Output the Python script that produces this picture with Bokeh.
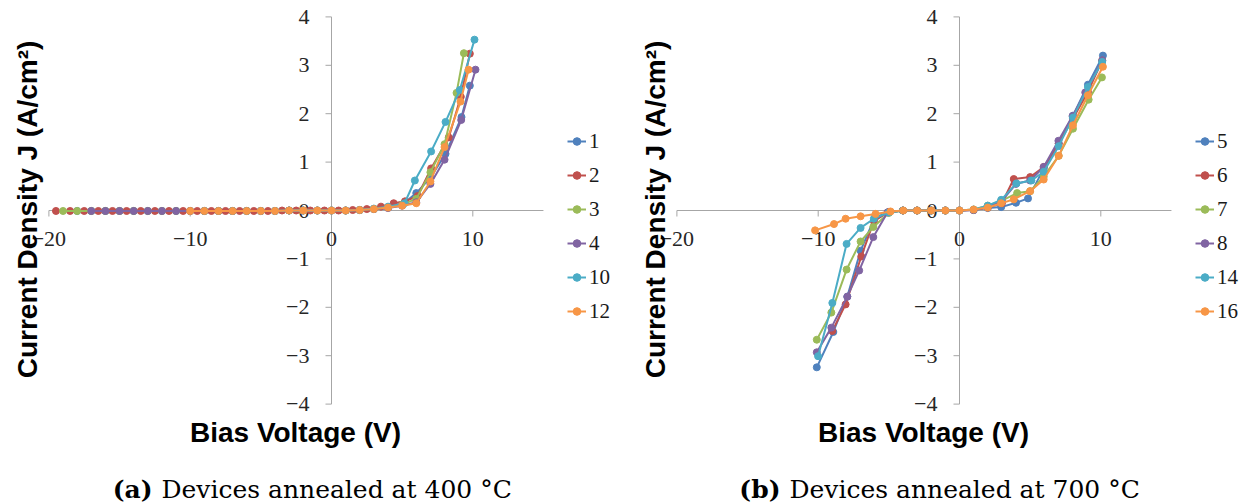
from bokeh.plotting import figure
from bokeh.models import Range1d, Legend, LegendItem, Label
from bokeh.layouts import row
from bokeh.embed import file_html
from bokeh.resources import INLINE
from bokeh.core.properties import value

# Series colours (1st..6th series of each panel)
COLORS = ["#4F81BD", "#C0504D", "#9BBB59", "#8064A2", "#4BACC6", "#F79646"]

# ---------------- devices annealed at 400 °C ----------------
names_400 = ["1", "2", "3", "4", "10", "12"]

v_400_1 = [-18, -17, -16, -15, -14, -13, -12, -11, -10, -9, -8, -7, -6, -5, -4, -3, -2, -1,
           0, 1, 2, 3, 4, 5, 6.0, 7.0, 8.07, 9.2, 9.79]
j_400_1 = [-0.01, -0.01, -0.01, -0.01, -0.01, -0.01, -0.01, -0.01, -0.01, -0.01, -0.01, -0.01,
           -0.01, -0.01, -0.01, 0.0, 0.0, 0.0,
           0.0, 0.0, 0.01, 0.03, 0.06, 0.12, 0.36, 0.68, 1.17, 1.93, 2.58]

v_400_2 = [-19.5, -18.5, -17.5, -16.5, -15.5, -14.5, -13.5, -12.5, -11.5, -10.5, -9.5, -8.5,
           -7.5, -6.5, -5.5, -4.5, -3.5, -2.5, -1.5, -0.5,
           0.5, 1.5, 2.5, 3.5, 4.4, 5.2, 6.1, 7.05, 8.3, 9.15, 9.79]
j_400_2 = [-0.01, -0.01, -0.01, -0.01, -0.01, -0.01, -0.01, -0.01, -0.01, -0.01, -0.01, -0.01,
           -0.01, -0.01, -0.01, -0.01, 0.0, 0.0, 0.0, 0.0,
           0.0, 0.01, 0.03, 0.08, 0.15, 0.19, 0.3, 0.87, 1.51, 2.35, 3.24]

v_400_3 = [-19, -18, -17, -16, -15, -14, -13, -12, -11, -10, -9, -8, -7, -6, -5, -4, -3, -2, -1,
           0, 1, 2, 3, 4, 5, 6, 7.0, 8.0, 8.85, 9.37]
j_400_3 = [-0.01, -0.01, -0.01, -0.01, -0.01, -0.01, -0.01, -0.01, -0.01, -0.01, -0.01, -0.01,
           -0.01, -0.01, -0.01, -0.01, 0.0, 0.0, 0.0,
           0.0, 0.0, 0.01, 0.03, 0.06, 0.12, 0.24, 0.79, 1.37, 2.43, 3.25]

v_400_4 = [-17, -16, -15, -14, -13, -12, -11, -10, -9, -8, -7, -6, -5, -4, -3, -2, -1,
           0, 1, 2, 3, 4, 5, 6.0, 7.0, 8.0, 9.18, 10.19]
j_400_4 = [-0.01, -0.01, -0.01, -0.01, -0.01, -0.01, -0.01, -0.01, -0.01, -0.01, -0.01, -0.01,
           -0.01, -0.01, 0.0, 0.0, 0.0,
           0.0, 0.0, 0.01, 0.03, 0.05, 0.1, 0.17, 0.55, 1.05, 1.87, 2.91]

v_400_10 = [-9, -8, -7, -6, -5, -4, -3, -2, -1, 0,
            1, 2, 3, 4, 5.17, 5.9, 7.05, 8.07, 9.08, 10.12]
j_400_10 = [-0.01, -0.01, -0.01, -0.01, -0.01, -0.01, 0.0, 0.0, 0.0, 0.0,
            0.0, 0.01, 0.04, 0.08, 0.15, 0.62, 1.22, 1.83, 2.49, 3.53]

v_400_12 = [-10, -9, -8, -7, -6, -5, -4, -3, -2, -1, 0,
            1, 2, 3, 4, 5, 6, 7, 8, 9.13, 9.7]
j_400_12 = [-0.01, -0.01, -0.01, -0.01, -0.01, -0.01, -0.01, 0.0, 0.0, 0.0, 0.0,
            0.0, 0.01, 0.03, 0.06, 0.1, 0.15, 0.6, 1.31, 2.25, 2.91]

# ---------------- devices annealed at 700 °C ----------------
names_700 = ["5", "6", "7", "8", "14", "16"]

v_700_5 = [-10.1, -8.93, -7.94, -7.0, -6.0, -5.0, -4, -3, -2, -1, 0,
           1, 2, 2.95, 4.0, 4.85, 5.96, 7.02, 8.03, 9.09, 10.15]
j_700_5 = [-3.24, -2.51, -1.78, -0.83, -0.15, -0.03, 0, 0, 0, 0, 0,
           0.01, 0.05, 0.07, 0.16, 0.25, 0.86, 1.39, 1.96, 2.6, 3.2]

v_700_6 = [-9.0, -8.06, -6.95, -6.06, -5.0, -4, -3, -2, -1, 0,
           1, 2, 3, 3.84, 5.0, 5.96, 7.02, 8.03, 9.09, 10.1]
j_700_6 = [-2.49, -1.94, -0.95, -0.22, -0.03, 0, 0, 0, 0, 0,
           0.01, 0.06, 0.15, 0.65, 0.69, 0.9, 1.38, 1.9, 2.45, 3.1]

v_700_7 = [-10.1, -9.07, -7.99, -7.0, -6.1, -5.0, -4, -3, -2, -1, 0,
           1, 2, 2.95, 4.08, 5.0, 5.96, 7.02, 8.03, 9.14, 10.08]
j_700_7 = [-2.67, -2.11, -1.22, -0.64, -0.34, -0.05, 0, 0, 0, 0, 0,
           0.02, 0.1, 0.2, 0.36, 0.4, 0.7, 1.13, 1.69, 2.29, 2.75]

v_700_8 = [-10.1, -9.07, -7.94, -7.1, -6.1, -5.1, -4, -3, -2, -1, 0,
           1, 2, 3, 4, 5, 5.96, 7.0, 8.0, 8.9, 10.1]
j_700_8 = [-2.93, -2.42, -1.78, -1.24, -0.55, -0.04, 0, 0, 0, 0, 0,
           0.01, 0.07, 0.2, 0.55, 0.62, 0.9, 1.44, 1.95, 2.44, 3.1]

v_700_14 = [-10.01, -9.0, -7.99, -7.0, -6.06, -5.0, -4, -3, -2, -1, 0,
            1, 2, 2.95, 4.03, 5.09, 5.96, 7.02, 8.03, 9.09, 10.1]
j_700_14 = [-3.01, -1.91, -0.69, -0.36, -0.17, -0.04, 0, 0, 0, 0, 0,
            0.02, 0.1, 0.22, 0.56, 0.62, 0.8, 1.33, 1.92, 2.55, 3.07]

v_700_16 = [-10.22, -8.88, -8.06, -7.0, -5.94, -4.88, -3.98, -3, -2, -1, 0,
            1, 2.0, 2.95, 3.84, 5.0, 5.96, 7.02, 8.03, 9.09, 10.15]
j_700_16 = [-0.41, -0.28, -0.17, -0.12, -0.07, -0.02, 0, 0, 0, 0, 0,
            0.02, 0.06, 0.15, 0.23, 0.4, 0.64, 1.13, 1.76, 2.38, 2.97]

series_400 = [(v_400_1, j_400_1), (v_400_2, j_400_2), (v_400_3, j_400_3),
              (v_400_4, j_400_4), (v_400_10, j_400_10), (v_400_12, j_400_12)]
series_700 = [(v_700_5, j_700_5), (v_700_6, j_700_6), (v_700_7, j_700_7),
              (v_700_8, j_700_8), (v_700_14, j_700_14), (v_700_16, j_700_16)]

# Axis ticks and labels
x_ticks = [-20, -10, 0, 10]
x_tick_labels = ["\u221220", "\u221210", "0", "10"]
y_ticks = [-4, -3, -2, -1, 0, 1, 2, 3, 4]
y_tick_labels = ["\u22124", "\u22123", "\u22122", "\u22121", "0", "1", "2", "3", "4"]
X_MIN, X_MAX = -20, 15
Y_MIN, Y_MAX = -4, 4

# Layout (screen pixels)
FIG_H = 504
ORIGIN_X = 331          # screen x of V = 0
ORIGIN_Y = 210          # screen y (from top) of J = 0
PX_PER_V = 14.13
PX_PER_J = 48.4
TICK_PX = 6

TICK_FONT = "Liberation Serif"
TITLE_FONT = "Liberation Sans"
CAPTION_FONT = "DejaVu Serif"
AXIS_GRAY = "#a6a6a6"


def panel(width, names, series, tag, caption):
    x_start = -ORIGIN_X / PX_PER_V
    x_end = (width - ORIGIN_X) / PX_PER_V
    y_end = ORIGIN_Y / PX_PER_J
    y_start = -(FIG_H - ORIGIN_Y) / PX_PER_J

    p = figure(width=width, height=FIG_H, output_backend="svg", toolbar_location=None,
               x_axis_type=None, y_axis_type=None,
               x_range=Range1d(x_start, x_end), y_range=Range1d(y_start, y_end),
               min_border=0, outline_line_color=None)
    p.background_fill_color = "white"
    p.border_fill_color = "white"

    # axes crossing at the origin
    p.segment(x0=[X_MIN, 0], y0=[0, Y_MIN], x1=[X_MAX, 0], y1=[0, Y_MAX],
              line_color=AXIS_GRAY, line_width=1)
    tick_dy = TICK_PX / PX_PER_J
    tick_dx = TICK_PX / PX_PER_V
    p.segment(x0=x_ticks, y0=[0] * len(x_ticks), x1=x_ticks, y1=[-tick_dy] * len(x_ticks),
              line_color=AXIS_GRAY, line_width=1)
    p.segment(x0=[0] * len(y_ticks), y0=y_ticks, x1=[-tick_dx] * len(y_ticks), y1=y_ticks,
              line_color=AXIS_GRAY, line_width=1)
    p.text(x=x_ticks, y=[0] * len(x_ticks), text=x_tick_labels, y_offset=28,
           text_align="center", text_baseline="middle",
           text_font=value(TICK_FONT), text_font_size="22px", text_color="#262626")
    p.text(x=[0] * len(y_ticks), y=y_ticks, text=y_tick_labels, x_offset=-22,
           text_align="right", text_baseline="middle",
           text_font=value(TICK_FONT), text_font_size="22px", text_color="#262626")

    items = []
    for (v, j), name, color in zip(series, names, COLORS):
        assert len(v) == len(j)
        ln = p.line(v, j, line_color=color, line_width=2)
        sc = p.scatter(v, j, size=7, fill_color=color, line_color=color)
        items.append(LegendItem(label=name, renderers=[ln, sc]))

    legend = Legend(items=items, location=(567, 176), orientation="vertical",
                    glyph_width=19, glyph_height=34, label_height=34, spacing=0,
                    padding=0, margin=0, label_standoff=3,
                    label_text_font=TICK_FONT, label_text_font_size="21px",
                    label_text_color="#1a1a1a",
                    background_fill_alpha=0, border_line_color=None)
    p.add_layout(legend)

    # axis titles
    p.add_layout(Label(x=295, y=FIG_H - 432, x_units="screen", y_units="screen",
                       text="Bias Voltage (V)", text_align="center",
                       text_baseline="alphabetic", text_font=TITLE_FONT,
                       text_font_style="bold", text_font_size="28px", text_color="black"))
    p.add_layout(Label(x=27, y=FIG_H - 209, x_units="screen", y_units="screen",
                       text="Current Density J (A/cm\u00b2)", angle=90, angle_units="deg",
                       text_align="center", text_baseline="middle", text_font=TITLE_FONT,
                       text_font_style="bold", text_font_size="28px", text_color="black"))

    # caption underneath the panel
    p.add_layout(Label(x=152, y=FIG_H - 489, x_units="screen", y_units="screen",
                       text=tag, text_align="right", text_baseline="middle",
                       text_font=CAPTION_FONT, text_font_style="bold",
                       text_font_size="25px", text_color="black"))
    p.add_layout(Label(x=161, y=FIG_H - 489, x_units="screen", y_units="screen",
                       text=caption, text_align="left", text_baseline="middle",
                       text_font=CAPTION_FONT, text_font_size="25px", text_color="black"))
    return p


left = panel(628, names_400, series_400, "(a)", "Devices annealed at 400 \u00b0C")
right = panel(627, names_700, series_700, "(b)", "Devices annealed at 700 \u00b0C")

layout = row(left, right)
open("out.html", "w").write(file_html(layout, INLINE))
